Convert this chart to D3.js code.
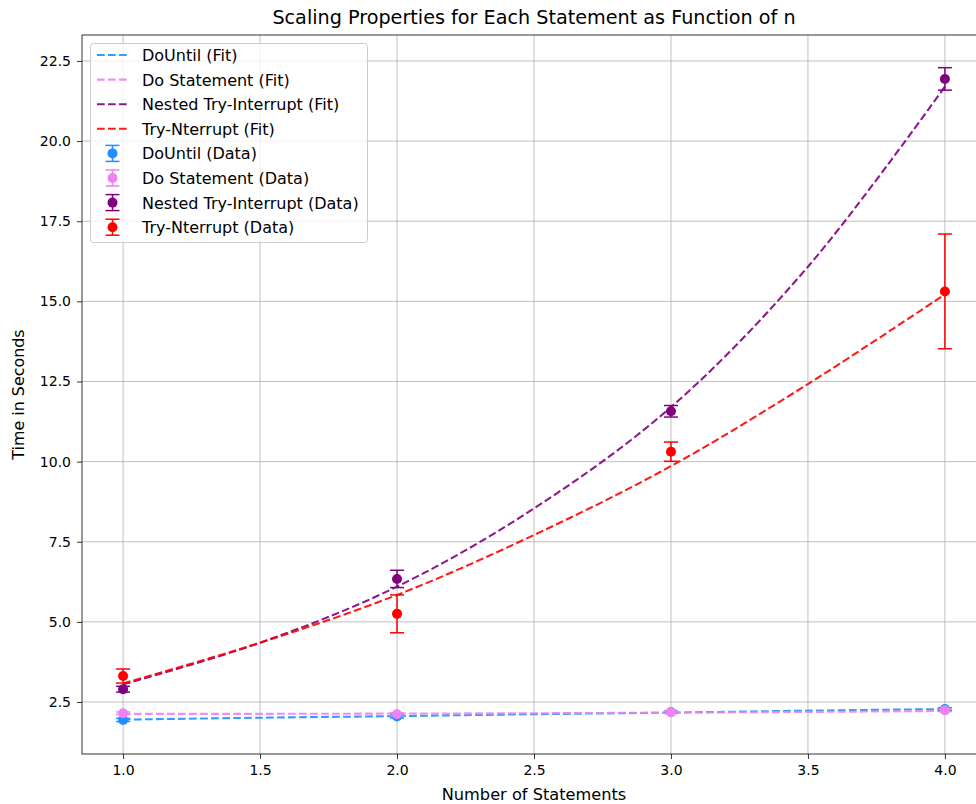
<!DOCTYPE html>
<html>
<head>
<meta charset="utf-8">
<script src="https://cdn.jsdelivr.net/npm/d3@7"></script>
<style>
  html, body { margin: 0; padding: 0; background: #fff; overflow: hidden; }
  svg { display: block; font-family: "DejaVu Sans", sans-serif; }
</style>
</head>
<body>
<svg id="chart" width="976" height="804"></svg>
<script>
// ---------- data ----------
const xData = [1, 2, 3, 4];
const xFit = [1, 1.5, 2, 2.5, 3, 3.5, 4];

const seriesNames = ["DoUntil", "Do Statement", "Nested Try-Interrupt", "Try-Nterrupt"];
const seriesColors = ["#1e90ff", "#ee82ee", "#800080", "#ff0000"];

const doUntilData = [1.94, 2.05, 2.19, 2.28];
const doUntilErr = [0.05, 0.05, 0.04, 0.04];
const doStatementData = [2.15, 2.12, 2.18, 2.24];
const doStatementErr = [0.04, 0.04, 0.04, 0.04];
const nestedData = [2.90, 6.34, 11.57, 21.94];
const nestedErr = [0.09, 0.27, 0.18, 0.35];
const tryData = [3.31, 5.25, 10.31, 15.31];
const tryErr = [0.22, 0.59, 0.30, 1.79];

const doUntilFit = [1.95, 2.01, 2.06, 2.12, 2.17, 2.23, 2.28];
const doStatementFit = [2.13, 2.13, 2.14, 2.15, 2.17, 2.19, 2.22];
const nestedFit = [3.05, 4.35, 6.10, 8.54, 11.70, 16.08, 21.70];
const tryFit = [3.08, 4.35, 5.84, 7.71, 9.86, 12.42, 15.22];

const xTicks = [1.0, 1.5, 2.0, 2.5, 3.0, 3.5, 4.0];
const yTicks = [2.5, 5.0, 7.5, 10.0, 12.5, 15.0, 17.5, 20.0, 22.5];

const titleText = "Scaling Properties for Each Statement as Function of n";
const xLabel = "Number of Statements";
const yLabel = "Time in Seconds";

const dataSets = [
  { vals: doUntilData, err: doUntilErr, fit: doUntilFit },
  { vals: doStatementData, err: doStatementErr, fit: doStatementFit },
  { vals: nestedData, err: nestedErr, fit: nestedFit },
  { vals: tryData, err: tryErr, fit: tryFit }
];

(function () {
// ---------- layout ----------
const svg = d3.select("#chart");
const pL = 82, pR = 986, pT = 35, pB = 754;
const x = d3.scaleLinear().domain([0.85, 4.15]).range([pL, pR]);
const y = d3.scaleLinear().domain([0.878, 23.31]).range([pB, pT]);

// grid
const grid = svg.append("g");
grid.selectAll("line.gx").data(xTicks).join("line")
  .attr("x1", d => x(d)).attr("x2", d => x(d))
  .attr("y1", pT).attr("y2", pB)
  .attr("stroke", "#b0b0b0").attr("stroke-width", 0.8);
grid.selectAll("line.gy").data(yTicks).join("line")
  .attr("y1", d => y(d)).attr("y2", d => y(d))
  .attr("x1", pL).attr("x2", pR)
  .attr("stroke", "#b0b0b0").attr("stroke-width", 0.8);

// axes
const xAxis = d3.axisBottom(x).tickValues(xTicks).tickFormat(d3.format(".1f")).tickSize(5).tickPadding(6);
const yAxis = d3.axisLeft(y).tickValues(yTicks).tickFormat(d3.format(".1f")).tickSize(5).tickPadding(6);
const gx = svg.append("g").attr("transform", `translate(0,${pB})`).call(xAxis);
const gy = svg.append("g").attr("transform", `translate(${pL},0)`).call(yAxis);
[gx, gy].forEach(g => {
  g.select(".domain").remove();
  g.selectAll("text").attr("font-size", 14).attr("fill", "#000").attr("font-family", "DejaVu Sans");
  g.selectAll("line").attr("stroke", "#000").attr("stroke-width", 0.8);
});

// spines
svg.append("rect").attr("x", pL).attr("y", pT)
  .attr("width", pR - pL).attr("height", pB - pT)
  .attr("fill", "none").attr("stroke", "#000").attr("stroke-width", 0.8);

// fit lines
const line = d3.line().x((d, i) => x(xFit[i])).y(d => y(d)).curve(d3.curveCatmullRom);
dataSets.forEach((s, k) => {
  svg.append("path").datum(s.fit)
    .attr("d", line)
    .attr("fill", "none")
    .attr("stroke", seriesColors[k])
    .attr("stroke-opacity", 0.9)
    .attr("stroke-width", 2.08)
    .attr("stroke-dasharray", "7.7,3.3");
});

// data with error bars
const cap = 7;
dataSets.forEach((s, k) => {
  const g = svg.append("g");
  const c = seriesColors[k];
  s.vals.forEach((v, i) => {
    const cx = x(xData[i]);
    const y1 = y(v + s.err[i]), y0 = y(v - s.err[i]);
    g.append("line").attr("x1", cx).attr("x2", cx).attr("y1", y1).attr("y2", y0)
      .attr("stroke", c).attr("stroke-width", 1.5);
    g.append("line").attr("x1", cx - cap).attr("x2", cx + cap).attr("y1", y1).attr("y2", y1)
      .attr("stroke", c).attr("stroke-width", 1.5);
    g.append("line").attr("x1", cx - cap).attr("x2", cx + cap).attr("y1", y0).attr("y2", y0)
      .attr("stroke", c).attr("stroke-width", 1.5);
    g.append("circle").attr("cx", cx).attr("cy", y(v)).attr("r", 5).attr("fill", c);
  });
});

// title & labels
svg.append("text").attr("x", (pL + pR) / 2).attr("y", 24)
  .attr("text-anchor", "middle").attr("font-size", 19.2).attr("fill", "#000").text(titleText);
svg.append("text").attr("x", (pL + pR) / 2).attr("y", 800)
  .attr("text-anchor", "middle").attr("font-size", 16.2).attr("fill", "#000").text(xLabel);
svg.append("text").attr("transform", `translate(24,${(pT + pB) / 2}) rotate(-90)`)
  .attr("text-anchor", "middle").attr("font-size", 15.9).attr("fill", "#000").text(yLabel);

// legend
const lg = svg.append("g");
lg.append("rect").attr("x", 90.5).attr("y", 43.5).attr("width", 277).attr("height", 199)
  .attr("rx", 3).attr("fill", "#fff").attr("fill-opacity", 0.8)
  .attr("stroke", "#cccccc").attr("stroke-width", 1);
const rowY = i => 55 + i * 24.6;
const lfs = 16;
seriesNames.forEach((n, k) => {
  const yy = rowY(k);
  lg.append("line").attr("x1", 97).attr("x2", 128).attr("y1", yy).attr("y2", yy)
    .attr("stroke", seriesColors[k]).attr("stroke-opacity", 0.9).attr("stroke-width", 2.08)
    .attr("stroke-dasharray", "7.7,3.3");
  lg.append("text").attr("x", 142).attr("y", yy + 6).attr("font-size", lfs).attr("fill", "#000")
    .text(n + " (Fit)");
});
seriesNames.forEach((n, k) => {
  const yy = rowY(k + 4);
  const c = seriesColors[k];
  lg.append("line").attr("x1", 112.5).attr("x2", 112.5).attr("y1", yy - 8).attr("y2", yy + 8)
    .attr("stroke", c).attr("stroke-width", 1.5);
  lg.append("line").attr("x1", 105.5).attr("x2", 119.5).attr("y1", yy - 8).attr("y2", yy - 8)
    .attr("stroke", c).attr("stroke-width", 1.5);
  lg.append("line").attr("x1", 105.5).attr("x2", 119.5).attr("y1", yy + 8).attr("y2", yy + 8)
    .attr("stroke", c).attr("stroke-width", 1.5);
  lg.append("circle").attr("cx", 112.5).attr("cy", yy).attr("r", 5).attr("fill", c);
  lg.append("text").attr("x", 142).attr("y", yy + 6).attr("font-size", lfs).attr("fill", "#000")
    .text(n + " (Data)");
});
})();
</script>
</body>
</html>
